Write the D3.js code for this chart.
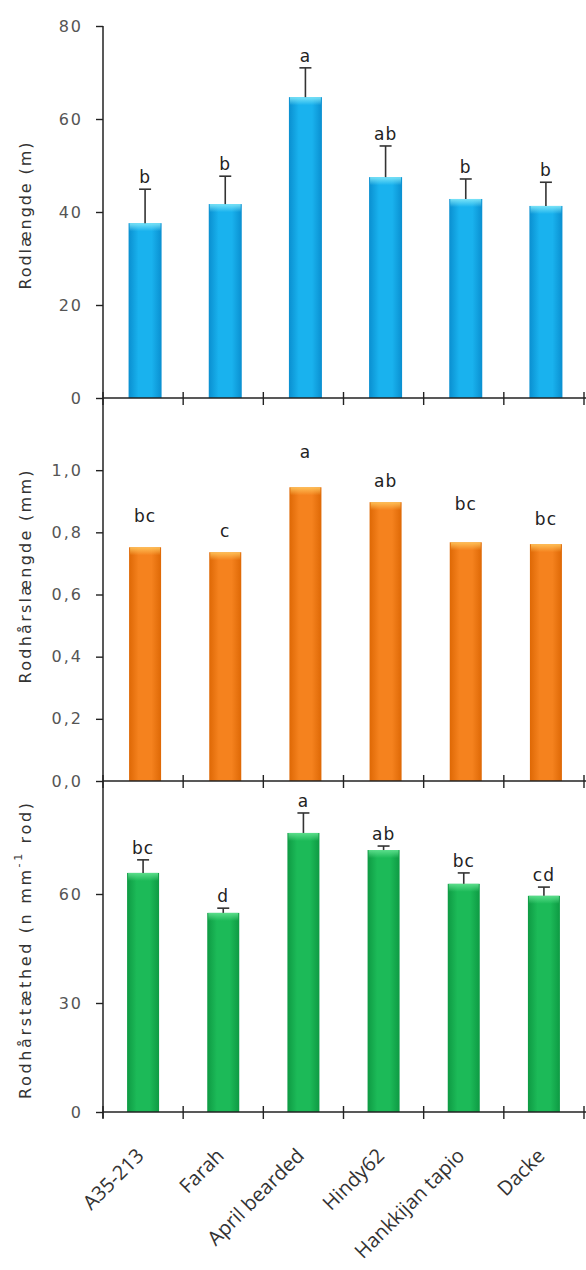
<!DOCTYPE html>
<html>
<head>
<meta charset="utf-8">
<script src="https://cdn.jsdelivr.net/npm/d3@7"></script>
<style>
  html, body { margin: 0; padding: 0; background: #fff; }
  svg { display: block; }
</style>
</head>
<body>
<svg id="chart" width="586" height="1270"></svg>
<script>
// ---------- data ----------
const categories = ["A35-213", "Farah", "April bearded", "Hindy62", "Hankkijan tapio", "Dacke"];

const rootLength = [37.6, 41.7, 64.7, 47.5, 42.8, 41.3];
const rootLengthErr = [7.3, 6.0, 6.3, 6.7, 4.3, 5.1];
const rootLengthLetters = ["b", "b", "a", "ab", "b", "b"];
const rootLengthTicks = [0, 20, 40, 60, 80];

const hairLength = [0.752, 0.736, 0.945, 0.897, 0.768, 0.762];
const hairLengthLabelAt = [0.813, 0.765, 1.019, 0.926, 0.852, 0.804];
const hairLengthLetters = ["bc", "c", "a", "ab", "bc", "bc"];
const hairLengthTicks = [0, 0.2, 0.4, 0.6, 0.8, 1.0];

const hairDensity = [65.8, 54.8, 76.8, 72.1, 62.8, 59.5];
const hairDensityErr = [3.6, 1.3, 5.5, 1.1, 3.0, 2.4];
const hairDensityLetters = ["bc", "d", "a", "ab", "bc", "cd"];
const hairDensityTicks = [0, 30, 60];

// ---------- layout ----------
const svg = d3.select("#chart");
const axisX = 103;
const x = d3.scaleBand().domain(categories).range([103, 584]).paddingInner(0).paddingOuter(0);

const panels = [
  { values: rootLength, err: rootLengthErr, letters: rootLengthLetters, ticks: rootLengthTicks,
    domain: [0, 80], range: [398, 26], fmt: d3.format("d"), color: "blue", off: 2, barW: 33,
    title: [{t: "Rodlængde  (m)"}], titleY: 216, titleLen: 147 },
  { values: hairLength, labelAt: hairLengthLabelAt, letters: hairLengthLetters, ticks: hairLengthTicks,
    domain: [0, 1.2], range: [781, 408], fmt: d => d3.format(".1f")(d).replace(".", ","), color: "orange", off: 2, barW: 32,
    title: [{t: "Rodhårslængde (mm)"}], titleY: 577, titleLen: 213 },
  { values: hairDensity, err: hairDensityErr, letters: hairDensityLetters, ticks: hairDensityTicks,
    domain: [0, 90], range: [1112, 785], fmt: d3.format("d"), color: "green", off: 0, barW: 32,
    title: [{t: "Rodhårstæthed (n mm"}, {t: "-1", sup: true}, {t: "  rod)"}], titleY: 951, titleLen: 296 }
];

const palette = {
  blue:   { edge: "#0a8fd0", mid: "#19b2ee", hi: "#7fe6f8" },
  orange: { edge: "#de6805", mid: "#f5821e", hi: "#ffc35a" },
  green:  { edge: "#0e9a43", mid: "#1cba58", hi: "#5fe08e" }
};

const defs = svg.append("defs");
Object.entries(palette).forEach(([k, c]) => {
  const g = defs.append("linearGradient").attr("id", "g-" + k).attr("x1", "0").attr("x2", "1").attr("y1", "0").attr("y2", "0");
  g.append("stop").attr("offset", "0%").attr("stop-color", c.edge);
  g.append("stop").attr("offset", "30%").attr("stop-color", c.mid);
  g.append("stop").attr("offset", "70%").attr("stop-color", c.mid);
  g.append("stop").attr("offset", "100%").attr("stop-color", c.edge);
  const h = defs.append("linearGradient").attr("id", "h-" + k).attr("x1", "0").attr("x2", "0").attr("y1", "0").attr("y2", "1");
  h.append("stop").attr("offset", "0%").attr("stop-color", c.hi).attr("stop-opacity", 0.95);
  h.append("stop").attr("offset", "100%").attr("stop-color", c.hi).attr("stop-opacity", 0);
});

panels.forEach((p) => {
  const y = d3.scaleLinear().domain(p.domain).range(p.range);
  const g = svg.append("g");
  const base = y(0);

  // bars
  const bars = g.selectAll(".bar").data(p.values).enter();
  bars.append("rect")
    .attr("x", (d, i) => x(categories[i]) + x.bandwidth() / 2 + p.off - p.barW / 2)
    .attr("y", d => y(d))
    .attr("width", p.barW)
    .attr("height", d => base - y(d))
    .attr("fill", `url(#g-${p.color})`);
  bars.append("rect")
    .attr("x", (d, i) => x(categories[i]) + x.bandwidth() / 2 + p.off - p.barW / 2 + 1)
    .attr("y", d => y(d))
    .attr("width", p.barW - 2)
    .attr("height", 8)
    .attr("fill", `url(#h-${p.color})`);

  // error bars
  if (p.err) {
    p.values.forEach((v, i) => {
      const cx = x(categories[i]) + x.bandwidth() / 2 + p.off;
      g.append("line").attr("x1", cx).attr("x2", cx).attr("y1", y(v)).attr("y2", y(v + p.err[i]))
        .attr("stroke", "#333").attr("stroke-width", 1.6);
      g.append("line").attr("x1", cx - 6).attr("x2", cx + 6).attr("y1", y(v + p.err[i])).attr("y2", y(v + p.err[i]))
        .attr("stroke", "#333").attr("stroke-width", 1.6);
    });
  }

  // significance letters
  p.letters.forEach((L, i) => {
    const cx = x(categories[i]) + x.bandwidth() / 2 + p.off;
    const top = p.err ? y(p.values[i] + p.err[i]) : y(p.labelAt[i]);
    g.append("text").attr("x", cx).attr("y", top - 6)
      .attr("text-anchor", "middle")
      .attr("font-family", "DejaVu Sans, Verdana, sans-serif")
      .attr("font-size", 17).attr("letter-spacing", 1)
      .attr("fill", "#222").text(L);
  });

  // y axis ticks + labels
  const ya = d3.axisLeft(y).tickValues(p.ticks).tickFormat(p.fmt).tickSize(7).tickPadding(13);
  const yg = g.append("g").attr("transform", `translate(${axisX},0)`).call(ya);
  yg.select(".domain").remove();
  yg.selectAll(".tick line").attr("stroke", "#222").attr("stroke-width", 1.4);
  yg.selectAll(".tick text").attr("font-family", "DejaVu Sans, Verdana, sans-serif")
    .attr("font-size", 16).attr("letter-spacing", 2).attr("fill", "#555");

  // x axis line + boundary ticks
  g.append("line").attr("x1", axisX).attr("x2", 586).attr("y1", base).attr("y2", base)
    .attr("stroke", "#222").attr("stroke-width", 1.5);
  d3.range(categories.length + 1).forEach(k => {
    const tx = x.range()[0] + k * x.step();
    g.append("line").attr("x1", tx).attr("x2", tx).attr("y1", base - 6).attr("y2", base + 7)
      .attr("stroke", "#222").attr("stroke-width", 1.4);
  });

  // y axis title
  const t = g.append("text")
    .attr("transform", `translate(25,${p.titleY}) rotate(-90)`)
    .attr("text-anchor", "middle")
    .attr("dominant-baseline", "central")
    .attr("font-family", "DejaVu Sans, Verdana, sans-serif")
    .attr("font-size", 16).attr("fill", "#333")
    .attr("textLength", p.titleLen).attr("lengthAdjust", "spacing");
  p.title.forEach(s => {
    const ts = t.append("tspan").text(s.t);
    if (s.sup) ts.attr("font-size", 11).attr("dy", -7);
    else if (t.selectAll("tspan").size() > 1) ts.attr("dy", 7);
  });
});

// continuous y axis line
svg.append("line").attr("x1", axisX).attr("x2", axisX).attr("y1", 26).attr("y2", 1118)
  .attr("stroke", "#222").attr("stroke-width", 1.5);

// x category labels (bottom)
svg.append("g").selectAll("text").data(categories).enter().append("text")
  .attr("transform", d => `translate(${x(d) + x.bandwidth() / 2 + 2},1157) rotate(-45)`)
  .attr("text-anchor", "end")
  .attr("font-family", "Open Sans, sans-serif")
  .attr("font-size", 20)
  .attr("fill", "#333")
  .text(d => d);
</script>
</body>
</html>
